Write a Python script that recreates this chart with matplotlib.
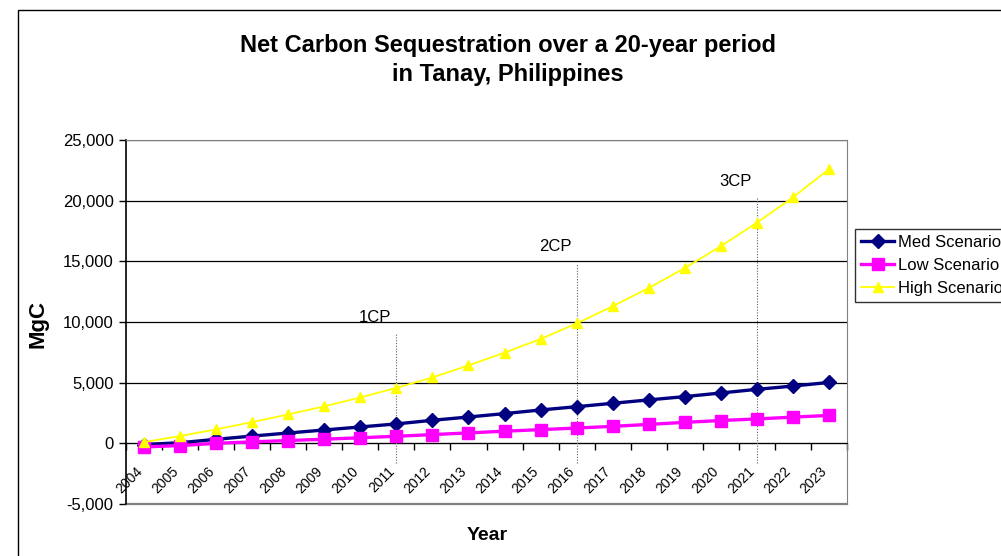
import numpy as np
import matplotlib
matplotlib.use("Agg")
import matplotlib.pyplot as plt
from matplotlib.patches import Rectangle
from matplotlib.transforms import ScaledTranslation
from matplotlib.ticker import FuncFormatter

plt.rcParams['font.family'] = ['Liberation Sans', 'DejaVu Sans']

years = [str(y) for y in range(2004, 2024)]

# MgC values
med = [-100, 50, 330, 600, 850, 1100, 1350, 1600, 1900, 2170, 2450, 2750,
       3020, 3300, 3580, 3850, 4150, 4450, 4720, 5020]
low = [-300, -180, 0, 120, 230, 340, 460, 580, 720, 860, 1000, 1130,
       1260, 1400, 1560, 1730, 1880, 2010, 2160, 2300]
high = [100, 600, 1150, 1750, 2380, 3050, 3780, 4570, 5430, 6420, 7470, 8600,
        9880, 11300, 12800, 14450, 16250, 18180, 20270, 22600]

cp_labels = ['1CP', '2CP', '3CP']
cp_years = ['2011', '2016', '2021']
cp_tops = [9100, 14900, 20300]

fig = plt.figure(figsize=(10.01, 5.56), dpi=100)
ax = fig.add_axes([126/1001, 1 - 504/556, (847 - 126)/1001, (504 - 140)/556])

# chart border
fig.patches.append(Rectangle((18/1001, -0.1), 1.2, 1 - 10/556 + 0.1,
                             transform=fig.transFigure, fill=False,
                             edgecolor='black', lw=1.0, zorder=0))

x = np.arange(len(years))

ax.plot(x, med, color='#000080', lw=2.4, marker='D', ms=7,
        label='Med Scenario', zorder=4)
ax.plot(x, low, color='#FF00FF', lw=2.4, marker='s', ms=8.5,
        label='Low Scenario', zorder=5)
ax.plot(x, high, color='#FFFF00', lw=1.3, marker='^', ms=7,
        label='High Scenario', zorder=6)

# commitment period markers
for lab, yr, top in zip(cp_labels, cp_years, cp_tops):
    xi = years.index(yr)
    ax.vlines(xi, -1650, top, colors='#606060', linestyles=(0, (1, 1.5)),
              lw=0.8, zorder=3, clip_on=False)
    ax.text(xi - 0.6, top + 1300, lab, fontsize=12, ha='center', va='center')

ax.set_xlim(-0.5, len(years) - 0.5)
ax.set_ylim(-5000, 25000)
ax.set_yticks(np.arange(-5000, 25001, 5000))
ax.yaxis.set_major_formatter(FuncFormatter(lambda v, p: f'{int(v):,}'))
ax.tick_params(axis='y', labelsize=12, direction='out', length=5, width=1,
               pad=4)
ax.yaxis.grid(True, color='black', lw=0.9)
ax.set_axisbelow(True)

ax.spines['bottom'].set_position(('data', 0))
ax.spines['bottom'].set_color('black')
ax.spines['left'].set_color('black')
ax.spines['left'].set_linewidth(1.2)
for s in ['top', 'right']:
    ax.spines[s].set_color('#808080')

ax.set_xticks(x)
ax.set_xticklabels(years)
ax.set_xticks(np.arange(-0.5, len(years) + 0.5, 1), minor=True)
ax.tick_params(axis='x', which='major', length=0, labelsize=10, pad=15)
ax.tick_params(axis='x', which='minor', length=5, direction='out', width=1)
for lbl in ax.get_xticklabels():
    lbl.set_rotation(45)
    lbl.set_ha('right')
    lbl.set_va('top')
    lbl.set_rotation_mode('anchor')
    lbl.set_transform(lbl.get_transform() +
                      ScaledTranslation(-0.09, 0, fig.dpi_scale_trans))

# bottom border of plot area
ax.axhline(-5000, color='#808080', lw=1.6, clip_on=False)

fig.text(508/1001, 1 - 60/556,
         'Net Carbon Sequestration over a 20-year period\nin Tanay, Philippines',
         ha='center', va='center', fontsize=17, fontweight='bold',
         linespacing=1.35)
fig.text(487/1001, 1 - 536/556, 'Year', ha='center', va='center',
         fontsize=14, fontweight='bold')
fig.text(38/1001, 1 - 324/556, 'MgC', ha='center', va='center',
         rotation=90, fontsize=16, fontweight='bold')

leg = fig.legend(loc='upper left', bbox_to_anchor=(855/1001, 1 - 229/556),
                 fontsize=12, frameon=True, fancybox=False, edgecolor='black',
                 handlelength=2.0, handletextpad=0.2, borderpad=0.35,
                 labelspacing=0.48, borderaxespad=0)
leg.get_frame().set_linewidth(1.0)

fig.savefig('out.png', dpi=100)
